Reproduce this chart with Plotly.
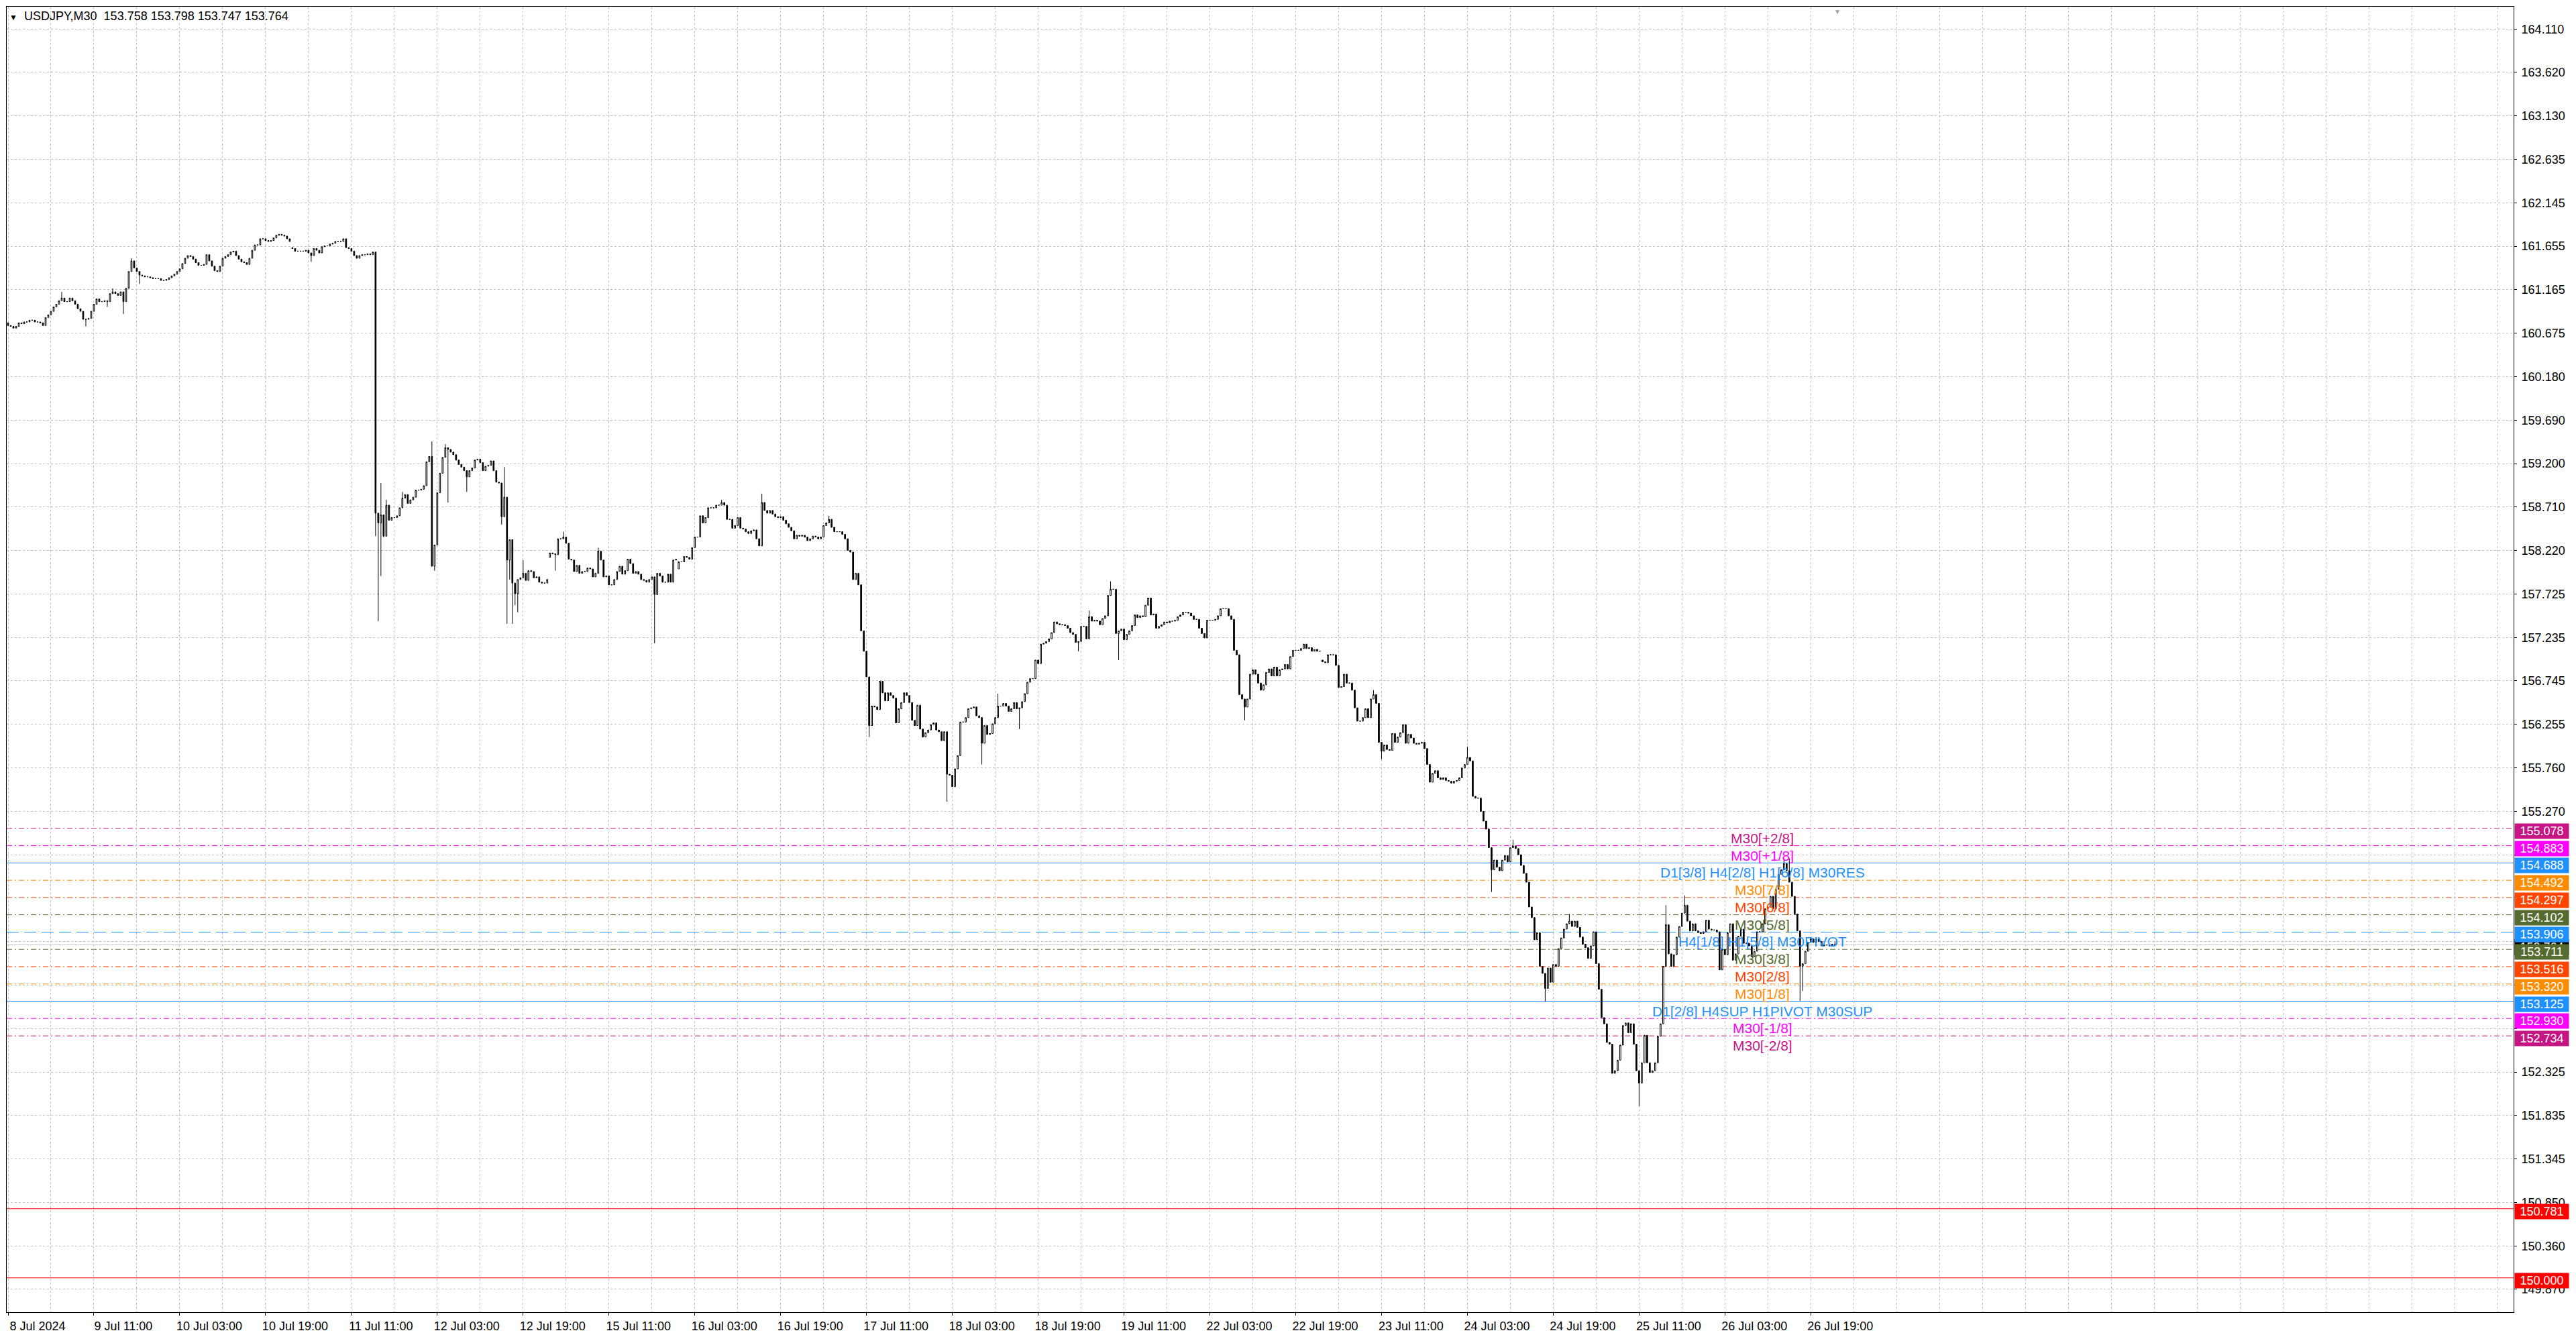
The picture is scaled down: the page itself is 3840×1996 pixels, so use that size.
import plotly.graph_objects as go

# USDJPY M30 closes, one per bar from 8 Jul 19:00 to 26 Jul 23:30 (weekends skipped, MT4 style)
closes = [
    160.76, 160.75, 160.73, 160.75, 160.79, 160.78, 160.80, 160.80, 160.82, 160.82,
    160.80, 160.80, 160.79, 160.76, 160.85, 160.88, 160.92, 160.97, 161.00, 161.04,
    161.07, 161.03, 161.03, 161.07, 161.04, 161.00, 160.95, 160.92, 160.83, 160.83,
    160.84, 160.92, 161.00, 161.06, 161.03, 161.03, 161.04, 161.03, 161.12, 161.14,
    161.12, 161.10, 161.14, 161.03, 161.18, 161.37, 161.49, 161.41, 161.37, 161.33,
    161.32, 161.31, 161.31, 161.30, 161.29, 161.29, 161.29, 161.27, 161.27, 161.28,
    161.30, 161.32, 161.34, 161.37, 161.40, 161.46, 161.52, 161.55, 161.54, 161.51,
    161.47, 161.44, 161.44, 161.45, 161.56, 161.49, 161.43, 161.38, 161.37, 161.43,
    161.52, 161.54, 161.56, 161.59, 161.60, 161.55, 161.51, 161.48, 161.47, 161.45,
    161.52, 161.61, 161.67, 161.67, 161.74, 161.74, 161.72, 161.71, 161.72, 161.75,
    161.78, 161.79, 161.78, 161.77, 161.74, 161.71, 161.63, 161.60, 161.60, 161.60,
    161.60, 161.61, 161.58, 161.55, 161.63, 161.61, 161.58, 161.65, 161.66, 161.66,
    161.68, 161.69, 161.71, 161.71, 161.71, 161.74, 161.64, 161.63, 161.60, 161.55,
    161.52, 161.55, 161.56, 161.56, 161.57, 161.56, 161.59, 158.64, 158.53, 158.62,
    158.38, 158.73, 158.56, 158.59, 158.59, 158.61, 158.70, 158.81, 158.85, 158.75,
    158.79, 158.82, 158.90, 158.90, 158.91, 158.95, 159.22, 159.28, 158.04, 158.28,
    158.87, 159.09, 159.27, 159.38, 159.36, 159.33, 159.30, 159.24, 159.19, 159.16,
    159.12, 159.05, 159.12, 159.15, 159.24, 159.25, 159.21, 159.12, 159.17, 159.18,
    159.23, 159.12, 158.99, 158.98, 158.60, 158.82, 158.11, 158.34, 157.85, 157.73,
    157.89, 157.91, 157.96, 157.88, 157.99, 157.98, 157.91, 157.92, 157.86, 157.85,
    157.85, 157.89, 158.19, 158.18, 158.17, 158.35, 158.35, 158.37, 158.30, 158.12,
    158.11, 157.98, 158.05, 157.96, 157.98, 157.98, 158.02, 158.01, 157.92, 157.96,
    158.21, 158.11, 157.92, 157.93, 157.83, 157.83, 157.89, 157.98, 158.04, 157.95,
    157.99, 158.12, 158.07, 157.96, 157.98, 157.95, 157.89, 157.88, 157.86, 157.89,
    157.92, 157.72, 157.96, 157.93, 157.86, 157.86, 157.95, 157.86, 158.11, 158.12,
    158.09, 158.09, 158.15, 158.14, 158.12, 158.25, 158.37, 158.37, 158.61, 158.53,
    158.59, 158.70, 158.70, 158.70, 158.73, 158.73, 158.76, 158.73, 158.57, 158.57,
    158.47, 158.50, 158.59, 158.47, 158.46, 158.43, 158.41, 158.44, 158.45, 158.35,
    158.27, 158.76, 158.67, 158.64, 158.67, 158.63, 158.60, 158.59, 158.60, 158.56,
    158.52, 158.48, 158.44, 158.35, 158.39, 158.38, 158.39, 158.37, 158.33, 158.35,
    158.38, 158.37, 158.35, 158.37, 158.50, 158.53, 158.57, 158.48, 158.43, 158.43,
    158.43, 158.40, 158.35, 158.22, 158.20, 157.89, 157.96, 157.83, 157.31, 157.08,
    156.79, 156.24, 156.46, 156.45, 156.42, 156.74, 156.61, 156.52, 156.61, 156.58,
    156.55, 156.27, 156.43, 156.50, 156.61, 156.58, 156.50, 156.30, 156.24, 156.47,
    156.20, 156.11, 156.16, 156.19, 156.25, 156.27, 156.19, 156.17, 156.07, 156.17,
    155.69, 155.68, 155.55, 155.75, 155.90, 156.28, 156.28, 156.33, 156.43, 156.44,
    156.45, 156.35, 156.33, 156.04, 156.24, 156.14, 156.15, 156.26, 156.33, 156.46,
    156.46, 156.49, 156.46, 156.40, 156.43, 156.50, 156.43, 156.44, 156.51, 156.60,
    156.73, 156.77, 156.77, 156.98, 156.94, 157.16, 157.17, 157.19, 157.22, 157.29,
    157.41, 157.39, 157.38, 157.38, 157.37, 157.34, 157.29, 157.27, 157.18, 157.19,
    157.36, 157.36, 157.22, 157.47, 157.42, 157.43, 157.42, 157.38, 157.45, 157.48,
    157.71, 157.78, 157.78, 157.28, 157.31, 157.33, 157.21, 157.27, 157.31, 157.37,
    157.49, 157.46, 157.48, 157.47, 157.60, 157.68, 157.49, 157.50, 157.34, 157.36,
    157.38, 157.41, 157.40, 157.42, 157.42, 157.43, 157.47, 157.49, 157.52, 157.52,
    157.51, 157.48, 157.44, 157.44, 157.34, 157.28, 157.23, 157.43, 157.43, 157.43,
    157.44, 157.48, 157.56, 157.56, 157.56, 157.48, 157.44, 157.09, 157.04, 156.59,
    156.54, 156.45, 156.54, 156.82, 156.87, 156.82, 156.72, 156.64, 156.70, 156.84,
    156.88, 156.80, 156.90, 156.80, 156.87, 156.88, 156.93, 156.88, 157.02, 157.09,
    157.09, 157.09, 157.11, 157.16, 157.11, 157.12, 157.08, 157.10, 157.08, 157.08,
    156.96, 156.95, 157.04, 157.04, 157.04, 156.92, 156.67, 156.68, 156.82, 156.72,
    156.72, 156.64, 156.44, 156.29, 156.29, 156.33, 156.43, 156.33, 156.54, 156.59,
    156.49, 156.05, 155.95, 156.02, 155.97, 155.96, 156.15, 156.05, 156.11, 156.16,
    156.25, 156.04, 156.14, 156.10, 156.04, 156.03, 156.04, 156.05, 155.98, 155.80,
    155.60, 155.70, 155.73, 155.65, 155.63, 155.65, 155.62, 155.61, 155.59, 155.61,
    155.62, 155.65, 155.76, 155.80, 155.88, 155.84, 155.44, 155.42, 155.42, 155.27,
    155.16, 155.07, 154.86, 154.61, 154.72, 154.64, 154.60, 154.72, 154.77, 154.70,
    154.86, 154.88, 154.85, 154.78, 154.66, 154.57, 154.47, 154.19, 154.07, 153.82,
    153.90, 153.52, 153.44, 153.27, 153.50, 153.34, 153.54, 153.52, 153.72, 153.84,
    153.94, 154.00, 154.03, 153.97, 154.03, 153.96, 153.85, 153.77, 153.73, 153.61,
    153.75, 153.91, 153.55, 153.26, 152.94, 152.87, 152.66, 152.64, 152.31, 152.34,
    152.46, 152.63, 152.85, 152.88, 152.77, 152.87, 152.64, 152.34, 152.20, 152.43,
    152.74, 152.43, 152.32, 152.34, 152.43, 152.73, 152.87, 153.52, 153.99, 153.66,
    153.52, 153.65, 153.85, 153.97, 154.12, 154.21, 154.03, 153.92, 154.00, 153.92,
    153.90, 153.89, 153.91, 154.04, 153.94, 153.93, 153.93, 153.91, 153.48, 153.71,
    153.65, 153.90, 154.00, 153.59, 153.66, 153.86, 153.94, 153.78, 153.78, 153.75,
    153.63, 153.69, 153.91, 153.91, 154.00, 154.17, 154.19, 154.31, 154.17, 154.39,
    154.56, 154.61, 154.68, 154.60, 154.47, 154.31, 154.11, 153.92, 153.52, 153.55,
    153.69, 153.79, 153.83, 153.79, 153.83, 153.80, 153.75, 153.76, 153.76, 153.75,
    153.77, 153.764,
]
first_open = 160.79
# bars that open away from the previous close (session gaps)
gap_bars = [106, 202, 250, 490]
gap_opens = [161.64, 158.14, 158.01, 156.98]

# wicks that stick out of the bodies
high_bars = [20, 39, 46, 139, 141, 147, 158, 163, 185, 192, 207, 220, 266, 281, 306,
             369, 403, 411, 509, 544, 561, 582, 618, 625, 662, 664]
high_vals = [161.14, 161.18, 161.52, 158.98, 158.79, 158.88, 159.45, 159.42, 159.16, 158.11,
             158.43, 158.25, 158.79, 158.86, 158.61, 156.60, 157.54, 157.87, 156.64, 156.00,
             154.95, 154.11, 154.21, 154.32, 154.74, 154.74]
low_bars = [29, 37, 43, 49, 113, 137, 138, 139, 140, 159, 164, 171, 184, 186, 187, 188,
            189, 190, 204, 241, 321, 350, 363, 377, 399, 414, 461, 512, 553, 573, 608,
            668, 669]
low_vals = [160.75, 160.97, 160.89, 161.23, 161.48, 158.38, 157.42, 157.93, 158.37, 157.99,
            158.76, 158.88, 158.51, 157.39, 157.89, 157.39, 157.60, 157.52, 157.99, 157.17,
            156.11, 155.38, 155.80, 156.20, 157.08, 156.98, 156.30, 155.86, 154.36, 153.12,
            151.94, 153.13, 153.24]

time_labels = ["8 Jul 2024", "9 Jul 11:00", "10 Jul 03:00", "10 Jul 19:00", "11 Jul 11:00",
               "12 Jul 03:00", "12 Jul 19:00", "15 Jul 11:00", "16 Jul 03:00", "16 Jul 19:00",
               "17 Jul 11:00", "18 Jul 03:00", "18 Jul 19:00", "19 Jul 11:00", "22 Jul 03:00",
               "22 Jul 19:00", "23 Jul 11:00", "24 Jul 03:00", "24 Jul 19:00", "25 Jul 11:00",
               "26 Jul 03:00", "26 Jul 19:00"]
bars_per_label = 32  # 16 hours of M30 bars

price_ticks = [164.110, 163.620, 163.130, 162.635, 162.145, 161.655, 161.165, 160.675,
               160.180, 159.690, 159.200, 158.710, 158.220, 157.725, 157.235, 156.745,
               156.255, 155.760, 155.270, 154.780, 154.290, 153.800, 153.305, 152.815,
               152.325, 151.835, 151.345, 150.850, 150.360, 149.870]
# these grid prices sit under the coloured price boxes, so their text is not shown
covered_ticks = [154.780, 154.290, 153.800, 153.305, 152.815]

level_prices = [155.078, 154.883, 154.688, 154.492, 154.297, 154.102, 153.906,
                153.711, 153.516, 153.320, 153.125, 152.930, 152.734]
level_names = ["M30[+2/8]", "M30[+1/8]", "D1[3/8] H4[2/8] H1[6/8] M30RES", "M30[7/8]",
               "M30[6/8]", "M30[5/8]", "H4[1/8] H1[5/8] M30PIVOT", "M30[3/8]", "M30[2/8]",
               "M30[1/8]", "D1[2/8] H4SUP H1PIVOT M30SUP", "M30[-1/8]", "M30[-2/8]"]
alert_prices = [150.781, 150.000]
last_bar = [153.758, 153.798, 153.747, 153.764]  # O H L C shown in the header

# styles
VIOLET, MAGENTA, BLUE = "#C71585", "#FF00FF", "#1E90FF"
ORANGE, ORANGERED, OLIVE = "#FF8C00", "#FF4500", "#556B2F"
level_colors = [VIOLET, MAGENTA, BLUE, ORANGE, ORANGERED, OLIVE, BLUE,
                OLIVE, ORANGERED, ORANGE, BLUE, MAGENTA, VIOLET]
DASHDOT = "8px,4px,2px,4px"
level_dash = [DASHDOT, DASHDOT, "solid", DASHDOT, DASHDOT, DASHDOT, "18px,8px",
              DASHDOT, DASHDOT, DASHDOT, "solid", DASHDOT, DASHDOT]
FONT = "Liberation Sans"
GRID = "#C0C0C0"

# M30 bars open where the previous bar closed, apart from the gap bars
opens = [first_open] + closes[:-1]
for b, o in zip(gap_bars, gap_opens):
    opens[b] = o
highs = [max(o, c) for o, c in zip(opens, closes)]
lows = [min(o, c) for o, c in zip(opens, closes)]
for b, h in zip(high_bars, high_vals):
    highs[b] = max(highs[b], h)
for b, l in zip(low_bars, low_vals):
    lows[b] = min(lows[b], l)
opens[-1] = last_bar[0]
highs[-1] = last_bar[1]
lows[-1] = last_bar[2]

bars = list(range(len(closes)))
x_max = 934

fig = go.Figure(go.Candlestick(
    x=bars, open=opens, high=highs, low=lows, close=closes,
    increasing=dict(line=dict(color="black", width=1), fillcolor="white"),
    decreasing=dict(line=dict(color="black", width=1), fillcolor="black"),
    whiskerwidth=0, hoverinfo="skip", showlegend=False,
))

shapes = []
annotations = []

# bid line and its (mostly hidden) label
shapes.append(dict(type="line", xref="paper", x0=0, x1=1, yref="y",
                   y0=last_bar[3], y1=last_bar[3], layer="between",
                   line=dict(color=GRID, width=1)))
annotations.append(dict(xref="paper", x=1, xanchor="left", xshift=1, yref="y",
                        y=last_bar[3], yshift=-4, text=f"{last_bar[3]:.3f}",
                        showarrow=False, bgcolor="black", width=80, height=22,
                        borderpad=0, font=dict(family=FONT, size=18, color="white")))

for price, name, col, dash in zip(level_prices, level_names, level_colors, level_dash):
    shapes.append(dict(type="line", xref="paper", x0=0, x1=1, yref="y", y0=price, y1=price,
                       layer="between", line=dict(color=col, width=1, dash=dash)))
    annotations.append(dict(xref="x", x=654, yref="y", y=price, xanchor="center",
                            yanchor="top", yshift=-1, text=name, showarrow=False,
                            font=dict(family=FONT, size=21, color=col)))
    annotations.append(dict(xref="paper", x=1, xanchor="left", xshift=1, yref="y", y=price,
                            yshift=-4, text=f"{price:.3f}", showarrow=False, bgcolor=col,
                            width=80, height=22, borderpad=0,
                            font=dict(family=FONT, size=18, color="white")))

for price in alert_prices:
    shapes.append(dict(type="line", xref="paper", x0=0, x1=1, yref="y", y0=price, y1=price,
                       layer="between", line=dict(color="#FF0000", width=1)))
    annotations.append(dict(xref="paper", x=1, xanchor="left", xshift=1, yref="y", y=price,
                            yshift=-4, text=f"{price:.3f}", showarrow=False, bgcolor="#FF0000",
                            width=80, height=22, borderpad=0,
                            font=dict(family=FONT, size=18, color="white")))

# header
annotations.append(dict(xref="paper", x=0, xanchor="left", xshift=2, yref="paper", y=1,
                        yanchor="top", yshift=-2, showarrow=False,
                        text="<span style='font-size:12px'>▼</span>\u00a0 USDJPY,M30\u00a0\u00a0"
                             + " ".join(f"{v:.3f}" for v in last_bar),
                        font=dict(family=FONT, size=18, color="black")))
# chart shift marker
annotations.append(dict(xref="x", x=len(closes), yref="paper", y=1, yanchor="top",
                        text="▼", showarrow=False, font=dict(size=10, color="#A0A0A0")))

fig.update_layout(
    width=3824, height=1980, autosize=False,
    margin=dict(l=1, r=85, t=1, b=26, pad=0),
    paper_bgcolor="white", plot_bgcolor="white",
    font=dict(family=FONT, size=18, color="black"),
    boxgap=0.4, hovermode=False,
    shapes=shapes, annotations=annotations,
    xaxis=dict(
        range=[-0.5, x_max], tickmode="array",
        tickvals=[i * bars_per_label for i in range(len(time_labels))],
        ticktext=time_labels, ticks="outside", ticklen=4, tickcolor="black",
        ticklabelshift=44, tickfont=dict(family=FONT, size=18),
        showgrid=True, gridcolor=GRID, griddash="3px,3px", gridwidth=1,
        minor=dict(tickmode="array",
                   tickvals=list(range(0, x_max, bars_per_label // 2)),
                   showgrid=True, gridcolor=GRID, griddash="3px,3px", ticks=""),
        showline=True, linecolor="black", linewidth=1, mirror=True,
        zeroline=False, rangeslider=dict(visible=False), fixedrange=True,
    ),
    yaxis=dict(
        side="right", range=[149.612, 164.362], tickmode="array",
        tickvals=price_ticks,
        ticktext=["" if v in covered_ticks else f"{v:.3f}" for v in price_ticks],
        ticks="outside", ticklen=4, tickcolor="black", ticklabelstandoff=3,
        tickfont=dict(family=FONT, size=18),
        showgrid=True, gridcolor=GRID, griddash="3px,3px", gridwidth=1,
        showline=True, linecolor="black", linewidth=1, mirror=True,
        zeroline=False, fixedrange=True,
    ),
)

fig.write_html("out.html")
